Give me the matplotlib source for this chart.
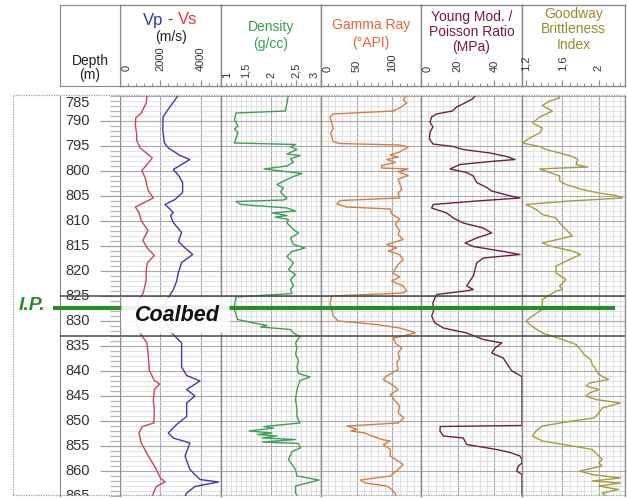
import matplotlib
matplotlib.use('Agg')
import matplotlib.pyplot as plt
import numpy as np
from matplotlib.ticker import MultipleLocator, FixedLocator
from matplotlib.patches import Rectangle, FancyBboxPatch
import matplotlib.transforms as mtransforms

plt.rcParams['font.family'] = ['Liberation Sans', 'DejaVu Sans']

# ---------------- data (depth in m) ----------------
vs_depth = [784.5, 786.5, 788.5, 789.5, 791, 792.5, 794, 795.5, 797.5, 799, 800, 801.5, 804, 805.5, 806.5,
            807.3, 808.5, 810, 812, 814, 815.5, 817, 818.5, 820, 822, 824.5, 826.5, 830, 832.5, 834.5, 837,
            840, 842, 842.7, 843.8, 846, 848, 850.5, 851.2, 852.5, 854.5, 857, 859.8, 861.5, 862.3, 863.2,
            864.5, 865.5]
vs_vals = [1350, 1300, 1050, 780, 760, 820, 830, 1000, 1600, 1300, 1080, 1250, 1400, 1650, 1150,
           760, 950, 1050, 1380, 1130, 1350, 1700, 1350, 1300, 1290, 1150, 820, 820, 990, 1330, 1400,
           1450, 1700, 1960, 1700, 1650, 1700, 1680, 1100, 940, 1050, 1390, 1800, 2000, 2230, 1800,
           1650, 1600]

vp_depth = [784.5, 786, 787.8, 789.3, 792, 794.5, 795.5, 797, 797.8, 799.8, 801, 802.4, 804.4, 805.8, 806.8,
            808.4, 809, 810.4, 812.4, 814.2, 815.5, 816.8, 818.4, 820.4, 822.2, 823.8, 826.5, 829.8, 832.5,
            834.5, 839.3, 841, 842.1, 843.8, 845.1, 846.5, 849.2, 850.8, 852.5, 853.5, 854.5, 857.1, 859.8,
            861.8, 862.3, 863.2, 864.5, 865.5]
vp_vals = [2970, 2700, 2380, 2130, 2120, 2200, 2400, 2970, 3460, 2640, 2900, 3100, 3100, 2720, 2230,
           2640, 2500, 2640, 3050, 2890, 3220, 3600, 3050, 2890, 2800, 2640, 2230, 2230, 2560,
           3050, 3050, 3300, 3960, 3300, 3710, 3300, 3300, 2800, 2390, 2640, 3460, 3220, 3460,
           3960, 4870, 3710, 3300, 3200]

rho_depth = [784.5, 786, 787.5, 788.1, 788.5, 789.8, 791.1, 791.7, 792.4, 794.5, 794.8, 795.3, 795.8, 796.7,
             797.0, 797.7, 798.3, 799.1, 799.7, 800.0, 800.6, 801.2, 801.8, 802.8, 803.5, 804.3, 805.6, 805.9,
             806.2, 806.8, 807.5, 808.1, 808.5, 809.0, 809.3, 809.8, 810.5, 811.8, 812.5, 813.5, 814.8, 815.5,
             816.2, 817.2, 818.5, 819.8, 820.8, 821.8, 823.1, 823.8, 824.6, 825.3, 827.5, 829.8, 830.5, 831.0,
             831.3, 831.8, 832.5, 833.2, 834.5, 835.5, 836.7, 838, 839.3, 840.6, 841.3, 842.0, 843.8, 845.8,
             847.8, 849.2, 850.5, 851.2, 851.5, 852.1, 852.5, 852.8, 853.1, 853.5, 853.8, 854.3, 854.6, 855.5,
             856.2, 857.8, 859.8, 861.1, 861.9, 863.1, 864.5, 865.5]
rho_vals = [2.35, 2.33, 2.30, 2.29, 1.30, 1.27, 1.34, 1.27, 1.34, 1.27, 2.49, 2.39, 2.52, 2.32,
            2.58, 2.39, 2.45, 2.32, 1.86, 2.12, 2.62, 2.45, 2.32, 2.12, 2.25, 2.19, 2.32, 2.25,
            1.30, 1.40, 2.32, 2.49, 2.02, 2.32, 2.09, 2.35, 2.32, 2.45, 2.55, 2.39, 2.45, 2.68,
            2.42, 2.32, 2.45, 2.35, 2.49, 2.39, 2.45, 2.39, 2.42, 1.30, 1.26, 1.33, 1.66, 1.92,
            1.79, 2.39, 2.45, 2.58, 2.49, 2.52, 2.49, 2.55, 2.52, 2.55, 2.78, 2.58, 2.52, 2.49,
            2.52, 2.52, 2.58, 1.86, 2.05, 1.56, 2.02, 1.73, 2.12, 1.83, 2.49, 1.83, 2.55, 2.59,
            2.42, 2.35, 2.49, 2.52, 2.96, 2.49, 2.49, 2.55]

gr_depth = [784.5, 785.1, 785.8, 786.5, 787.5, 788.1, 788.7, 789.3, 790.5, 791.5, 792.5, 794.2, 794.6, 794.9,
            795.3, 796.3, 796.9, 797.3, 797.8, 798.4, 799.0, 799.5, 799.7, 800.2, 801, 801.7, 802.5, 803.8,
            804.5, 805.5, 806.0, 806.7, 807.3, 807.7, 808.7, 809.7, 810.7, 812, 812.8, 813.8, 814.8, 815.5,
            816.1, 816.8, 817.8, 819.1, 820.5, 821.3, 822.1, 823.1, 824.1, 824.5, 825.1, 826.5, 827.8, 829.1,
            830.1, 830.8, 831.5, 832.1, 832.5, 833.1, 833.5, 834.5, 835.5, 836.5, 837.5, 838.5, 839.8, 841.1,
            841.8, 842.8, 843.8, 844.8, 846.1, 847.1, 848.5, 849.5, 850.5, 851.1, 851.5, 851.8, 852.1, 852.5,
            853.1, 853.8, 854.1, 854.8, 855.8, 857.1, 858.1, 858.8, 859.8, 861.1, 861.9, 862.5, 863.1, 863.8,
            864.6, 865.5]
gr_vals = [118, 120, 115, 120, 110, 101, 17, 12.6, 15, 17, 13.5, 17, 25, 110,
           122, 110, 97, 108, 92, 104, 85, 85, 122, 108, 122, 108, 110, 113,
           108, 110, 27, 22, 36, 97, 99, 110, 104, 110, 108, 115, 92, 106,
           94, 110, 115, 106, 101, 110, 99, 115, 120, 115, 15, 12.6, 15, 17,
           24, 78, 110, 125, 132, 115, 101, 104, 113, 108, 110, 106, 108, 92,
           87, 99, 108, 97, 104, 110, 108, 116, 108, 36, 45, 50, 42, 62,
           71, 85, 97, 87, 97, 97, 108, 115, 108, 97, 55, 62, 92, 99,
           104, 106]

ym_depth = [784.5, 785.1, 785.7, 786.3, 787.3, 788.1, 788.7, 789.3, 790.3, 791.3, 792.3, 793.7, 794.7, 795.2,
            795.8, 796.5, 797.2, 797.8, 798.2, 798.8, 799.7, 800.4, 801.1, 802.4, 803.4, 804.1, 805, 805.5,
            806.1, 806.8, 807.5, 808.5, 809.5, 810.5, 811.5, 812.5, 813.5, 814.5, 815.2, 816.2, 816.8, 817.5,
            818.5, 819.8, 821.1, 822.1, 823.1, 823.8, 824.1, 824.8, 826.5, 827.8, 829.1, 830.5, 831.5, 832.5,
            833.8, 834.5, 835.5, 836.5, 837.5, 839.1, 840.1, 841, 841.3, 851, 851.2, 852.1, 853.1, 853.5,
            854.8, 855.8, 856.4, 857.1, 857.8, 858.5, 859.1, 860.1, 860.8, 865.5]
ym_vals = [30, 29.4, 28, 24.9, 19.4, 17, 8.5, 5.8, 4.9, 6.5, 4.9, 4.6, 6.5, 17.6,
           23, 37.6, 46.7, 51.2, 38, 21.2, 15.8, 24.9, 28.5, 30.3, 35.8, 38.5, 47.7, 53.9,
           30.3, 6.7, 5.8, 14, 17.6, 23, 33.9, 38.5, 30.3, 24, 28.5, 44.8, 53.9, 33.9,
           30.3, 29.4, 28.5, 26.6, 24.9, 28.5, 24, 8.5, 6.4, 7.1, 5.8, 7.6, 12.2, 24.9,
           34, 44, 40.3, 38.5, 44.8, 47.6, 49.5, 54, 55, 55, 10.5, 10.3, 12.2, 23,
           24.9, 41.2, 48.5, 53.9, 55, 55, 53, 52.1, 55, 55]

gw_depth = [784.5, 785.1, 785.5, 786.1, 787, 788.1, 789.3, 790.5, 791.5, 792.5, 793.5, 794.5, 795.2, 795.8,
            796.5, 797.2, 797.8, 798.8, 799.3, 799.5, 799.7, 800.4, 801.1, 802.1, 802.8, 803.8, 804.5, 805,
            805.5, 806.1, 806.8, 807.8, 808.8, 809.5, 810.5, 811.8, 813.1, 814.5, 815.1, 816.1, 816.8, 817.8,
            819.1, 820.5, 821.8, 823.1, 823.8, 824.1, 825.8, 827.8, 829.1, 830.1, 831.1, 832.5, 833.8, 834.8,
            835.8, 836.8, 837.8, 838.8, 839.8, 840.8, 841.8, 842.5, 843.1, 843.8, 844.5, 845.1, 845.8, 846.5,
            847.5, 848.5, 849.5, 850.1, 851.1, 852.1, 853.1, 854.1, 855.1, 855.8, 857.1, 857.8, 858.5, 859.1,
            860.1, 860.8, 861.5, 862.1, 862.5, 863.1, 863.8, 864.5, 865.5]
gw_vals = [1.52, 1.55, 1.57, 1.46, 1.38, 1.49, 1.35, 1.27, 1.38, 1.35, 1.24, 1.16, 1.35, 1.42,
           1.57, 1.71, 1.77, 1.75, 1.88, 1.60, 1.35, 1.46, 1.57, 1.57, 1.64, 1.82, 2.00, 2.19,
           2.26, 1.68, 1.20, 1.31, 1.38, 1.53, 1.57, 1.64, 1.71, 1.38, 1.46, 1.71, 1.80, 1.68,
           1.53, 1.53, 1.64, 1.57, 1.60, 1.53, 1.38, 1.38, 1.27, 1.20, 1.26, 1.38, 1.60, 1.75,
           1.80, 1.84, 1.91, 1.93, 1.97, 2.00, 2.11, 1.90, 1.86, 2.00, 1.90, 1.86, 1.97, 2.24,
           2.04, 2.00, 1.95, 1.71, 1.38, 1.31, 1.27, 1.38, 1.71, 1.93, 2.00, 2.04, 2.00, 2.04,
           1.79, 1.93, 2.24, 1.93, 2.24, 2.00, 2.22, 2.04, 2.10]

depth_labels = list(range(785, 866, 5))
ip_depth = 827.4
coal_top, coal_base = 825, 833

vp_ticks = [0, 2000, 4000]
rho_ticks = [1, 1.5, 2, 2.5, 3]
gr_ticks = [0, 50, 100]
ym_ticks = [0, 20, 40]
gw_ticks = [1.2, 1.6, 2.0]

# ---------------- layout ----------------
W, H = 627, 498
fig = plt.figure(figsize=(W / 100, H / 100), dpi=100)


def px_axes(x0, y0, x1, y1):
    return fig.add_axes([x0 / W, 1 - y1 / H, (x1 - x0) / W, (y1 - y0) / H])


PT, PB = 95.5, 495.5
HT, HB = 5, 86
edges = [120, 221, 321, 421, 522, 625]
D_TOP, D_BOT = 785, 865


def fmt(v):
    s = ('%g' % v)
    return s.replace('.', ',')


tracks = [
    dict(xlim=(0, 5000), minor_grid=None, major_grid=[2000, 4000], tmin=400, ticks=vp_ticks,
         curves=[(vs_vals, vs_depth, '#cc4455'), (vp_vals, vp_depth, '#3c3ca6')],
         title=None, lab_y=71),
    dict(xlim=(1, 3), minor_grid=0.1, major_grid=[2.0], tmin=0.1, ticks=rho_ticks,
         curves=[(rho_vals, rho_depth, '#3f9f55')],
         title=[('Density', 27), ('(g/cc)', 44)], color='#35a050', lab_y=78),
    dict(xlim=(0, 140), minor_grid=10, major_grid=[50, 100], tmin=10, ticks=gr_ticks,
         curves=[(gr_vals, gr_depth, '#d07f45')],
         title=[('Gamma Ray', 25), ('(°API)', 43)], color='#e2643a', lab_y=72),
    dict(xlim=(0, 55), minor_grid=4, major_grid=[20, 40], tmin=4, ticks=ym_ticks,
         curves=[(ym_vals, ym_depth, '#6b2145')],
         title=[('Young Mod. /', 17), ('Poisson Ratio', 32), ('(MPa)', 47)], color='#7a1a3c', lab_y=72),
    dict(xlim=(1.155, 2.29), minor_grid=0.08, major_grid=[1.6, 2.0], tmin=0.08, ticks=gw_ticks,
         curves=[(gw_vals, gw_depth, '#a89a40')],
         title=[('Goodway', 14), ('Brittleness', 29), ('Index', 45)], color='#9a8a2c', lab_y=71),
]

track_axes = []
for i, tr in enumerate(tracks):
    x0, x1 = edges[i], edges[i + 1]
    ax = px_axes(x0, PT, x1, PB)
    ax.set_xlim(*tr['xlim'])
    ax.set_ylim(D_BOT, D_TOP)
    ax.yaxis.set_major_locator(MultipleLocator(5))
    ax.yaxis.set_minor_locator(MultipleLocator(1))
    ax.xaxis.set_major_locator(FixedLocator(tr['major_grid']))
    if tr['minor_grid']:
        ax.xaxis.set_minor_locator(MultipleLocator(tr['minor_grid']))
    ax.grid(which='minor', color='#dcdcdc', lw=0.6)
    ax.grid(which='major', color='#a9a9a9', lw=0.8)
    ax.set_axisbelow(True)
    ax.tick_params(which='both', length=0, labelleft=False, labelbottom=False)
    for s in ['top', 'bottom']:
        ax.spines[s].set_visible(False)
    for s in ['left', 'right']:
        ax.spines[s].set_color('#8a8a8a')
        ax.spines[s].set_linewidth(1.0)
    lo, hi = tr['xlim']
    for vals, dep, col in tr['curves']:
        ax.plot(np.clip(vals, lo, hi), dep, color=col, lw=1.0, zorder=3)
    for d in (coal_top, coal_base):
        ax.axhline(d, color='#4a4a4a', lw=1.1, zorder=4)
    track_axes.append(ax)

    # header
    hx = px_axes(x0, HT, x1, HB)
    hx.set_xlim(*tr['xlim'])
    hx.set_ylim(0, 1)
    hx.set_yticks([])
    hx.xaxis.set_major_locator(FixedLocator(tr['ticks']))
    hx.xaxis.set_minor_locator(MultipleLocator(tr['tmin']))
    hx.tick_params(axis='x', which='major', direction='in', length=4.5, width=0.8, color='#8a8a8a',
                   labelbottom=False)
    hx.tick_params(axis='x', which='minor', direction='in', length=2.3, width=0.7, color='#8a8a8a')
    for s in hx.spines.values():
        s.set_color('#8a8a8a')
        s.set_linewidth(1.0)
    fy = (HB - tr['lab_y']) / (HB - HT)
    span = hi - lo
    for t in tr['ticks']:
        if abs(t - lo) < 1e-6 * span:
            ha, dx = 'left', 1.5
        elif abs(t - hi) < 1e-6 * span:
            ha, dx = 'right', -1.5
        else:
            ha, dx = 'center', 0
        bt = mtransforms.offset_copy(mtransforms.blended_transform_factory(hx.transData, hx.transAxes),
                                     fig, x=dx, y=0, units='dots')
        hx.text(t, fy, fmt(t), rotation=90, ha=ha, va='bottom', transform=bt,
                fontsize=8, color='#333333')
    if tr['title']:
        for txt, yy in tr['title']:
            hx.text(0.5, (HB - yy) / (HB - HT), txt, ha='center', va='center', transform=hx.transAxes,
                    fontsize=10, color=tr['color'])
    else:
        yv = (HB - 20) / (HB - HT)
        hx.text(0.5, yv, '-', ha='center', va='center', fontsize=12, color='#a03535',
                transform=hx.transAxes)
        hx.text(0.5, yv, 'Vp', ha='right', va='center', fontsize=12, color='#3333b5',
                transform=mtransforms.offset_copy(hx.transAxes, fig, x=-7, y=0, units='dots'))
        hx.text(0.5, yv, 'Vs', ha='left', va='center', fontsize=12, color='#e03838',
                transform=mtransforms.offset_copy(hx.transAxes, fig, x=7, y=0, units='dots'))
        hx.text(0.5, (HB - 37) / (HB - HT), '(m/s)', ha='center', va='center', fontsize=10,
                color='#222222', transform=hx.transAxes)

# depth column
axd = px_axes(60, PT, 120, PB)
axd.set_xlim(0, 1)
axd.set_ylim(D_BOT, D_TOP)
axd.yaxis.tick_right()
axd.yaxis.set_major_locator(FixedLocator([d for d in depth_labels if D_TOP < d < D_BOT]))
axd.yaxis.set_minor_locator(MultipleLocator(1))
axd.tick_params(axis='y', which='major', direction='in', length=14.4, width=0.9, color='#a0a0a0',
                labelright=False, labelleft=False)
axd.tick_params(axis='y', which='minor', direction='in', length=7.2, width=0.9, color='#b5b5b5')
axd.set_xticks([])
for s in ['top', 'bottom', 'right']:
    axd.spines[s].set_visible(False)
axd.spines['left'].set_color('#8a8a8a')
for d in (coal_top, coal_base):
    axd.axhline(d, color='#4a4a4a', lw=1.1, zorder=4)
bd = mtransforms.blended_transform_factory(axd.transAxes, axd.transData)
for d in depth_labels:
    va = 'top' if d == D_TOP else 'center'
    axd.text(0.5, d, str(d), ha='right', va=va, transform=bd, fontsize=10.5, color='#333333',
             clip_on=True)

hd = px_axes(60, HT, 120, HB)
hd.set_xticks([])
hd.set_yticks([])
for s in hd.spines.values():
    s.set_color('#8a8a8a')
hd.text(0.5, (HB - 61) / (HB - HT), 'Depth', ha='center', va='center', fontsize=10, color='#222222',
        transform=hd.transAxes)
hd.text(0.5, (HB - 75) / (HB - HT), '(m)', ha='center', va='center', fontsize=10, color='#222222',
        transform=hd.transAxes)

# dotted border around plot area
fig.add_artist(Rectangle((13 / W, 1 - 495 / H), (625 - 13) / W, 400 / H, transform=fig.transFigure,
                         fill=False, ls=(0, (1, 1)), ec='#a0a0a0', lw=0.9))

# overlay: I.P. line and coalbed annotation
ov = px_axes(0, PT, W, PB)
ov.set_xlim(0, W)
ov.set_ylim(D_BOT, D_TOP)
ov.axis('off')
ov.patch.set_alpha(0)
ov.plot([53, 615], [ip_depth, ip_depth], color='#2b8a2b', lw=3, solid_capstyle='butt')
ov.add_patch(FancyBboxPatch((121, coal_top + 0.4), 109, coal_base - coal_top - 0.8,
                            boxstyle='round,pad=0,rounding_size=4', fc='white', ec='none', alpha=0.9,
                            zorder=5))
ov.text(177, 828.9, 'Coalbed', ha='center', va='center', fontsize=15.5, fontweight='bold',
        fontstyle='italic', color='#111111', zorder=6)
ov.text(32, 826.9, 'I.P.', ha='center', va='center', fontsize=14, fontweight='bold',
        fontstyle='italic', color='#2b8a2b', clip_on=False)

fig.savefig('out.png', dpi=100)
